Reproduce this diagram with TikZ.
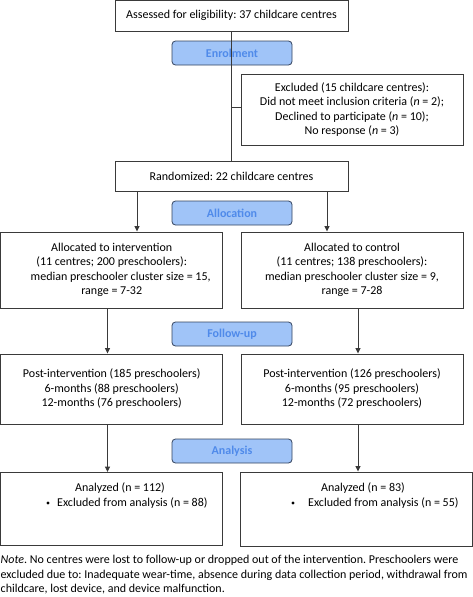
\documentclass[tikz,border=0pt]{standalone}
\usepackage{fontspec}
\setmainfont{Carlito}
\usetikzlibrary{arrows.meta,calc}
\definecolor{phfill}{HTML}{A0C4F8}
\definecolor{phtext}{HTML}{4F8AEA}
\definecolor{phdraw}{HTML}{34435E}
\definecolor{boxdraw}{HTML}{3A3A3A}
\frenchspacing
\begin{document}
\begin{tikzpicture}[x=1pt,y=-1pt,
  every node/.style={font=\fontsize{12}{14.5}\selectfont, inner sep=0pt},
  box/.style={draw=boxdraw, line width=0.9pt, align=center},
  phase/.style={draw=phdraw, fill=phfill, rounded corners=3.5pt, line width=0.8pt,
     minimum width=120pt, minimum height=24pt, text=phtext, font=\fontsize{12}{12}\selectfont\bfseries},
  conn/.style={draw=boxdraw, line width=0.9pt},
  arr/.style={conn, -{Triangle[length=5.5pt,width=5pt]}},
  txt/.style={align=center},
  bullet/.style={circle, fill=black, minimum size=3.4pt}
]
\useasboundingbox (0,0) rectangle (473,597);
% boxes
\node[box, minimum width=233pt, minimum height=31pt] (top) at (231.5,15.5) {Assessed for eligibility: 37 childcare centres};
\node[phase] (enrol) at (232,53) {Enrolment};
\node[box, minimum width=222pt, minimum height=71pt] (excl) at (352,109.5) {Excluded (15 childcare centres):\\Did not meet inclusion criteria (\textit{n} = 2);\\Declined to participate (\textit{n} = 10);\\No response (\textit{n} = 3)};
\node[box, minimum width=233pt, minimum height=30pt] (rand) at (231.5,176) {Randomized: 22 childcare centres};
\node[phase] (alloc) at (232,213) {Allocation};
\node[box, minimum width=222pt, minimum height=76pt] (ai) at (111.7,270) {Allocated to intervention\\(11 centres; 200 preschoolers):\\\hspace*{18pt}median preschooler cluster size = 15,\\range = 7-32};
\node[box, minimum width=222pt, minimum height=76pt] (ac) at (352,270) {Allocated to control\\(11 centres; 138 preschoolers):\\median preschooler cluster size = 9,\\range = 7-28};
\node[phase] (fu) at (232,334) {Follow-up};
\node[box, minimum width=222pt, minimum height=70pt] (pi) at (111.7,389) {Post-intervention (185 preschoolers)\\6-months (88 preschoolers)\\12-months (76 preschoolers)};
\node[box, minimum width=222pt, minimum height=70pt] (pc) at (352,389) {Post-intervention (126 preschoolers)\\6-months (95 preschoolers)\\12-months (72 preschoolers)};
\node[phase] (an) at (232,451) {Analysis};
\node[box, minimum width=222pt, minimum height=73pt] (ani) at (111.7,509) {};
\node[box, minimum width=232pt, minimum height=74pt] (anc) at (356,509) {};
\node[txt] (ani1) at (120,488) {Analyzed (n = 112)};
\node[txt, anchor=west] (ani2) at (57,503) {Excluded from analysis (n = 88)};
\node[bullet] (bi) at (48,503) {};
\node[txt] (anc1) at (363,488) {Analyzed (n = 83)};
\node[txt, anchor=west] (anc2) at (308,503) {Excluded from analysis (n = 55)};
\node[bullet] (bc) at (293,503) {};
% note
\node[anchor=north west, align=left] (note) at (0.5,555) {\textit{Note}. No centres were lost to follow-up or dropped out of the intervention. Preschoolers were\\excluded due to: Inadequate wear-time, absence during data collection period, withdrawal from\\childcare, lost device, and device malfunction.};
% connectors
\coordinate (xc) at (232,107);
\draw[conn] (top.south) -- (rand.north);
\draw[conn] (xc) -- (excl.west |- xc);
\coordinate (xl) at (137,0);
\coordinate (xr) at (327,0);
\draw[arr] (xl |- rand.south) -- (xl |- ai.north);
\draw[arr] (xr |- rand.south) -- (xr |- ac.north);
\coordinate (xl2) at (107.5,0);
\coordinate (xr2) at (358,0);
\draw[arr] (xl2 |- ai.south) -- (xl2 |- pi.north);
\draw[arr] (xr2 |- ac.south) -- (xr2 |- pc.north);
\draw[arr] (xl2 |- pi.south) -- (xl2 |- ani.north);
\draw[arr] (xr2 |- pc.south) -- (xr2 |- anc.north);
\end{tikzpicture}
\end{document}
